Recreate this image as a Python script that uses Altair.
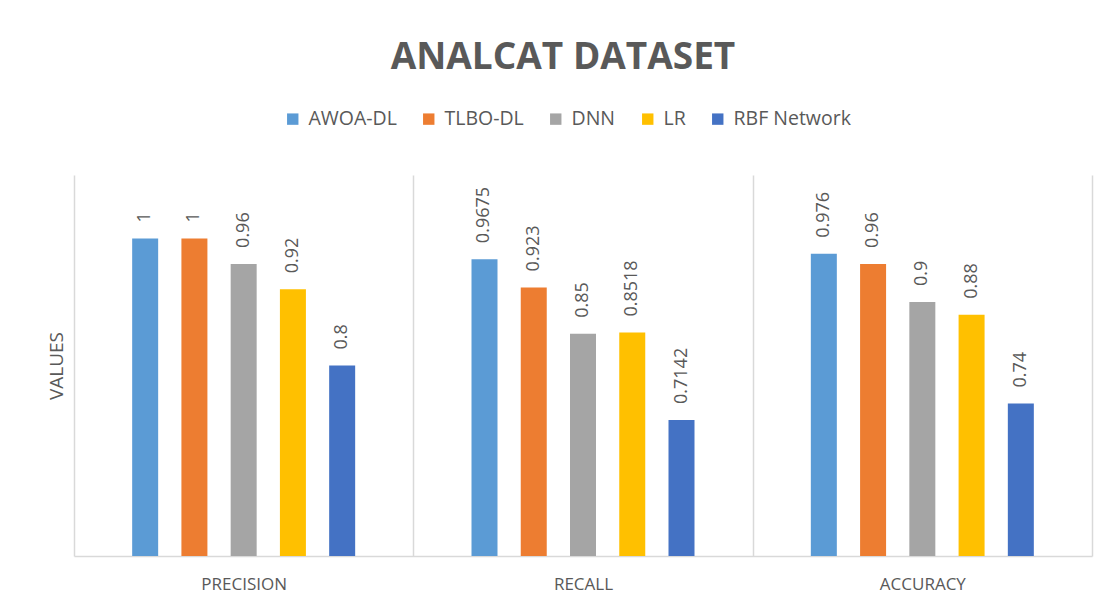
import altair as alt
import pandas as pd

metrics = ["PRECISION", "RECALL", "ACCURACY"]
models = ["AWOA-DL", "TLBO-DL", "DNN", "LR", "RBF Network"]
precision = [1, 1, 0.96, 0.92, 0.8]
recall = [0.9675, 0.923, 0.85, 0.8518, 0.7142]
accuracy = [0.976, 0.96, 0.9, 0.88, 0.74]
colors = ["#5B9BD5", "#ED7D31", "#A5A5A5", "#FFC000", "#4472C4"]

rows = []
for metric, vals in zip(metrics, [precision, recall, accuracy]):
    for m, v in zip(models, vals):
        rows.append({"metric": metric, "model": m, "value": v, "label": str(v)})
df = pd.DataFrame(rows)

FONT = "Open Sans"
GRAY = "#595959"
LINE = "#D9D9D9"

base = alt.Chart(df).encode(
    x=alt.X("metric:N", sort=metrics, title=None,
            scale=alt.Scale(paddingInner=0, paddingOuter=0),
            axis=alt.Axis(labelAngle=0, labelFontSize=17, labelColor=GRAY, labelFont=FONT,
                          labelPadding=20, ticks=False, domain=True, domainColor=LINE,
                          domainWidth=1.5, grid=True, gridColor=LINE, gridWidth=1.5,
                          tickBand="extent")),
    xOffset=alt.XOffset("model:N", sort=models,
                        scale=alt.Scale(paddingInner=0, paddingOuter=0.945)),
    y=alt.Y("value:Q", title="VALUES",
            scale=alt.Scale(domain=[0.5, 1.1], zero=False, nice=False),
            axis=alt.Axis(labels=False, ticks=False, domain=False, grid=False,
                          titleFontSize=19, titleColor=GRAY, titleFont=FONT,
                          titleFontWeight="normal", titlePadding=8)),
)

bars = base.mark_bar(width=26).encode(
    y2=alt.Y2(datum=0.5),
    color=alt.Color("model:N", sort=models,
                    scale=alt.Scale(domain=models, range=colors),
                    legend=alt.Legend(title=None, orient="none", legendX=209, legendY=-66,
                                      direction="horizontal", symbolType="square",
                                      symbolSize=130, symbolStrokeWidth=0,
                                      labelFontSize=19.5, labelColor=GRAY, labelFont=FONT,
                                      labelOffset=6, columnPadding=22))
)

labels = base.mark_text(angle=270, align="left", baseline="middle", dx=16,
                        fontSize=18, color=GRAY, font=FONT).encode(text="label:N")

chart = alt.layer(bars, labels).properties(
    width=1018, height=381,
    padding={"left": 66, "top": 167, "right": 13, "bottom": 46},
    autosize=alt.AutoSizeParams(type="none"),
    title=alt.Title("ANALCAT  DATASET", fontSize=37, fontWeight="bold", color=GRAY,
                    font=FONT, anchor="middle", frame="group", dx=-20, offset=3,
                    baseline="alphabetic"),
).configure_view(stroke=None).configure_axis(labelFont=FONT, titleFont=FONT)

chart.save("out.html", embed_options={"renderer": "svg", "actions": False})
